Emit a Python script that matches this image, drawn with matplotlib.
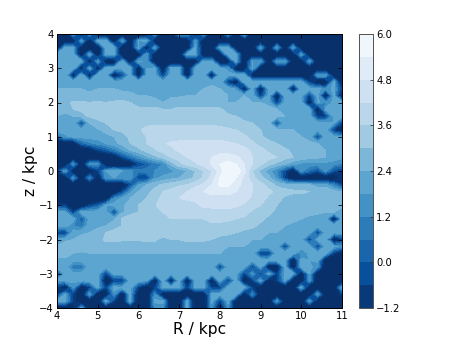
import numpy as np
import matplotlib
matplotlib.use("Agg")
import matplotlib.pyplot as plt
from matplotlib.cm import ScalarMappable
from matplotlib.colors import Normalize

x_kpc = [4.0 + 0.2 * i for i in range(36)]
z_kpc = [4.0 - 0.2 * i for i in range(41)]
levels = [-1.2, -0.6, 0.0, 0.6, 1.2, 1.8, 2.4, 3.0, 3.6, 4.2, 4.8, 5.4, 6.0]
cbar_ticks = [-1.2, 0.0, 1.2, 2.4, 3.6, 4.8, 6.0]
x_ticks = [4, 5, 6, 7, 8, 9, 10, 11]
z_ticks = [-4, -3, -2, -1, 0, 1, 2, 3, 4]

E = -25  # empty cell
# log density in tenths, read by eye; rows z=4 ... z=-4, columns x=4 ... x=11
density_tenths = [
 [E,E,16,E,16,E,E,E,E,E,E,E,16,E,E,16,16,E, 16,E,E,16,E,20,E,E,E,E,E,E,E,E,E,E,E,E],
 [E,E,E,18,E,18,20,E,18,E,18,20,E,E,E,E,E,16, E,E,E,E,E,E,E,E,E,E,E,E,E,E,E,E,E,E],
 [E,20,20,E,E,E,20,20,E,E,20,E,18,E,E,E,E,20, E,E,18,20,E,E,E,18,E,18,E,18,E,E,E,E,E,E],
 [20,21,20,E,20,E,20,20,E,E,E,18,E,E,E,E,20,20, E,E,E,20,20,E,E,E,E,E,E,E,18,E,E,E,E,E],
 [20,21,21,20,E,18,E,E,20,E,20,16,E,E,E,E,E,E, 18,18,E,E,20,E,18,18,E,18,18,E,E,18,E,E,E,E],
 [21,22,21,E,20,E,20,21,20,20,E,18,20,E,20,20,E,20, 20,20,20,16,E,E,20,E,E,E,E,E,E,E,E,E,E,E],
 [21,22,E,22,E,22,22,E,-6,21,E,20,21,-8,22,21,E,21, 21,E,21,20,21,20,E,E,E,E,E,E,E,E,18,18,E,E],
 [22,23,23,23,22,23,23,22,23,22,23,22,22,21,22,22,22,22, 23,23,23,-8,E,20,20,20,20,21,20,20,20,-8,E,E,20,E],
 [24,24,24,24,23,24,24,24,23,23,23,23,23,23,23,23,23,23, 24,25,24,23,16,E,20,E,20,21,21,E,21,21,20,14,20,-8],
 [26,26,26,26,25,26,25,26,26,25,24,24,22,22,23,23,24,24, 26,26,26,24,23,24,22,-8,20,E,20,21,20,-8,20,E,20,E],
 [27,28,31,31,30,31,30,31,32,30,28,28,28,24,26,28,28,28, 28,28,26,24,24,26,24,24,22,-8,20,20,20,E,20,12,20,18],
 [25,25,30,31,32,32,32,33,32,31,31,31,31,30,30,31,31,31, 31,31,31,28,28,28,26,26,26,24,23,23,22,21,E,20,20,20],
 [24,23,24,28,31,32,33,33,33,33,33,33,33,33,33,33,33,33, 33,33,33,31,30,28,28,28,26,26,24,24,22,21,-8,-8,20,20],
 [23,23,22,-6,24,28,30,31,33,33,33,34,35,35,35,35,35,35, 35,35,34,33,32,31,30,28,26,-6,23,24,22,22,21,21,18,-8],
 [21,22,23,20,22,23,26,30,31,33,35,38,38,38,38,38,38,38, 38,38,38,37,36,34,32,30,28,26,24,24,22,21,20,20,-8,E],
 [0,16,20,21,21,21,22,24,28,31,33,36,38,38,39,39,39,39, 40,40,40,39,38,37,34,31,28,27,26,25,24,22,-6,21,20,21],
 [E,E,E,2,10,14,18,22,26,30,33,36,38,41,43,44,44,44, 44,44,44,43,42,40,37,34,32,30,28,27,26,25,24,23,22,22],
 [E,E,E,E,E,-8,-2,8,16,24,28,32,35,38,40,43,45,46, 46,46,46,46,45,44,41,38,35,33,31,29,27,26,25,24,23,22],
 [E,E,E,E,E,E,E,E,-5,6,15,22,28,32,36,38,42,44, 46,48,50,50,49,46,42,40,38,36,32,30,28,26,25,24,22,20],
 [E,E,14,E,14,14,E,E,E,E,-6,0,8,12,26,34,38,41, 44,49,54,57,54,48,42,37,32,28,24,20,16,16,16,16,14,10],
 [-8,18,E,E,E,-8,18,20,18,14,8,10,12,14,16,20,24,30, 36,42,50,59,58,50,36,28,20,12,-4,E,14,4,-4,14,-4,-8],
 [E,E,14,E,12,E,16,18,18,18,-8,-8,16,20,22,24,28,31, 37,44,54,56,54,46,38,32,26,16,-8,E,E,E,E,E,E,-8],
 [E,E,E,E,E,E,E,E,E,-6,18,24,28,31,33,35,36,40, 43,48,55,55,50,46,42,38,34,28,27,26,25,24,20,20,10,-6],
 [E,E,E,E,E,E,E,E,-6,16,24,28,32,36,38,40,42,46, 48,50,50,50,48,46,42,39,37,35,32,31,31,30,30,30,26,24],
 [E,E,E,E,E,E,E,12,20,24,28,30,33,38,41,42,43,44, 46,46,46,46,46,44,41,38,35,32,29,28,28,28,27,27,26,25],
 [-6,-8,E,E,-8,0,18,21,23,26,30,32,35,41,40,40,39,40, 44,44,44,44,43,41,38,36,33,30,28,28,27,27,26,26,26,25],
 [21,18,-8,21,21,22,22,-6,23,26,30,33,34,36,37,37,37,38, 39,39,40,40,39,38,35,33,31,29,27,27,26,25,25,24,24,22],
 [22,22,21,-2,21,23,23,23,31,36,36,36,36,36,36,36,36,36, 36,37,37,37,36,35,33,31,29,27,26,25,24,23,22,21,E,20],
 [21,22,12,8,22,23,24,27,30,31,32,32,33,33,34,34,34,35, 35,35,35,34,34,33,31,29,26,25,24,23,23,22,22,21,21,20],
 [-6,-8,22,23,24,26,30,32,31,31,32,32,32,33,33,33,33,33, 33,33,32,31,30,28,28,26,24,24,23,23,22,21,-8,21,20,20],
 [18,23,24,26,27,28,31,31,31,31,31,31,31,28,30,30,31,31, 31,30,28,28,26,26,24,24,23,23,23,22,21,-8,20,21,E,-8],
 [25,26,27,28,26,27,28,28,26,26,26,27,28,28,27,27,28,28, 27,27,26,24,24,24,23,23,22,22,-8,22,21,20,-8,20,20,16],
 [26,26,24,23,24,24,24,24,24,24,24,24,24,24,24,24,24,24, 24,24,24,24,23,23,22,-8,-8,21,21,20,12,20,20,20,-8,E],
 [23,23,21,22,22,20,22,22,23,23,23,24,24,24,24,24,24,24, 23,23,23,23,22,22,21,21,20,20,20,E,20,18,20,E,E,E],
 [21,21,6,6,21,21,21,22,21,22,21,21,21,21,22,22,22,22, 22,22,-8,20,21,20,-8,20,E,E,20,E,20,20,14,E,E,E],
 [-8,20,21,21,20,20,-8,20,20,20,21,20,20,20,20,20,20,20, 20,20,20,20,20,-8,16,-8,20,-8,20,18,E,18,E,E,E,E],
 [18,20,20,20,20,20,E,-8,-8,20,20,20,E,20,E,20,E,20, 20,E,20,-8,20,E,-8,20,E,-8,18,E,E,16,E,E,E,E],
 [-8,E,14,E,-8,20,-8,21,18,20,-8,E,-8,20,20,20,-8,20, 20,-8,-8,20,20,20,-8,E,E,E,E,E,20,E,E,E,E,20],
 [-8,18,-8,E,18,E,E,14,E,20,E,E,12,E,E,E,E,E, E,20,20,20,20,E,12,E,E,E,E,E,E,E,18,E,E,-8],
 [18,20,-8,E,E,E,20,-8,E,20,E,E,20,20,E,E,20,E, E,20,-8,20,E,E,E,E,E,16,E,E,E,16,E,E,E,E],
 [E,E,E,16,E,E,E,E,E,E,E,E,12,14,E,E,20,E, E,14,E,14,E,E,E,E,E,E,E,E,E,E,E,E,E,E],
]

W, H = 458, 343
fig = plt.figure(figsize=(W / 80, H / 80), dpi=80, facecolor="white")
ax = fig.add_axes([57 / W, 1 - 308 / H, 285 / W, 274 / H])
cax = fig.add_axes([359 / W, 1 - 308 / H, 14 / W, 274 / H])

cmap = plt.get_cmap("Blues_r").copy()
cmap.set_under(cmap(0.0))
Z = np.array(density_tenths, dtype=float) / 10.0
cf = ax.contourf(x_kpc, z_kpc, Z, levels=levels, cmap=cmap, extend="min")
ax.set_xlim(4, 11)
ax.set_ylim(-4, 4)
ax.set_xticks(x_ticks)
ax.set_yticks(z_ticks)
ax.tick_params(direction="in", length=3.5, width=0.7, labelsize=9, pad=3, top=True, right=True)
ax.set_xlabel("R / kpc", fontsize=14, labelpad=1)
ax.set_ylabel("z / kpc", fontsize=14, labelpad=1)
for s in ax.spines.values():
    s.set_linewidth(0.9)

sm = ScalarMappable(norm=Normalize(levels[0], levels[-1]), cmap=cmap)
cb = fig.colorbar(sm, cax=cax, boundaries=levels, ticks=cbar_ticks, spacing="proportional")
cb.ax.set_yticklabels(["\u22121.2", "0.0", "1.2", "2.4", "3.6", "4.8", "6.0"])
cb.ax.tick_params(direction="in", length=3, width=0.7, labelsize=9, pad=3, color="#333333")
cb.outline.set_linewidth(0.9)
cb.outline.set_edgecolor("#555555")

fig.savefig("out.png", dpi=80)
